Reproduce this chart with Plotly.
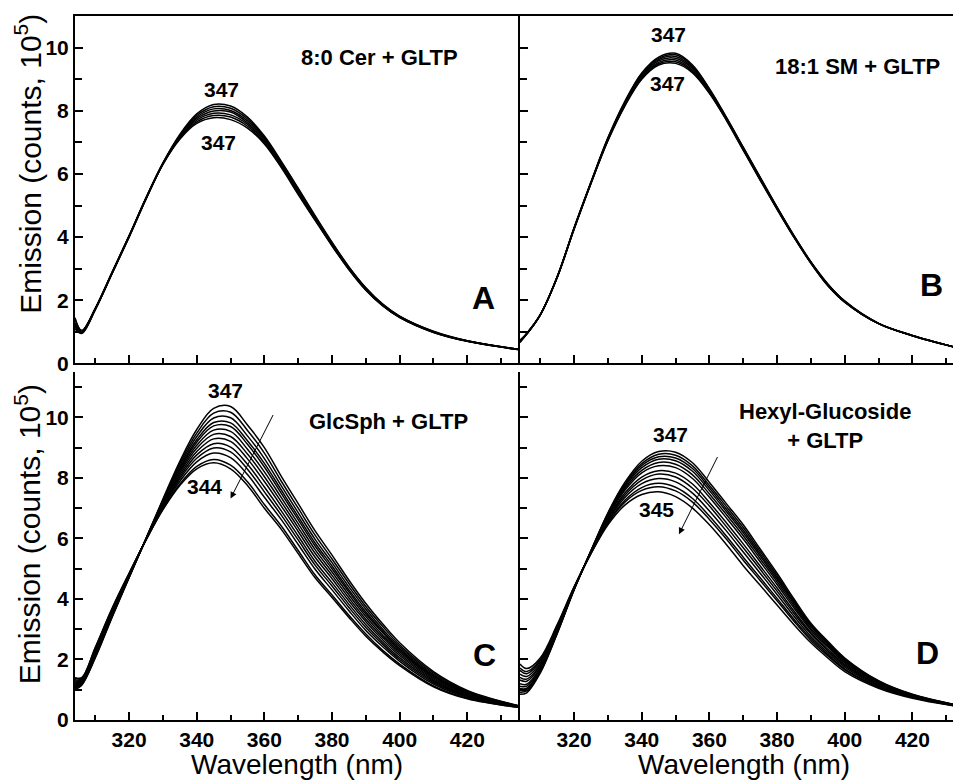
import plotly.graph_objects as go

# ---------------- data ----------------
WAVELENGTH = [304, 306, 310, 315, 320, 325, 330, 335, 340, 345, 350, 355,
              360, 365, 370, 375, 380, 385, 390, 395, 400, 410, 420, 435]

# Panel A: 8:0 Cer + GLTP  (emission, counts x 1e5)
CER_GLTP = [
    [1.40, 1.05, 1.75, 2.90, 4.05, 5.25, 6.35, 7.25, 7.90, 8.20, 8.15, 7.80, 7.20, 6.40, 5.55, 4.68, 3.84, 3.06, 2.40, 1.88, 1.50, 1.02, 0.72, 0.45],
    [1.25, 1.03, 1.74, 2.89, 4.04, 5.24, 6.34, 7.22, 7.85, 8.13, 8.08, 7.74, 7.16, 6.37, 5.52, 4.65, 3.82, 3.05, 2.39, 1.87, 1.49, 1.01, 0.72, 0.45],
    [1.45, 1.02, 1.73, 2.88, 4.03, 5.23, 6.33, 7.20, 7.80, 8.06, 8.01, 7.68, 7.12, 6.33, 5.48, 4.63, 3.80, 3.03, 2.37, 1.86, 1.48, 1.01, 0.71, 0.45],
    [1.15, 1.00, 1.73, 2.88, 4.03, 5.23, 6.33, 7.18, 7.75, 7.99, 7.96, 7.62, 7.08, 6.30, 5.45, 4.61, 3.78, 3.02, 2.36, 1.85, 1.48, 1.00, 0.71, 0.45],
    [1.30, 0.98, 1.72, 2.87, 4.02, 5.22, 6.32, 7.15, 7.70, 7.92, 7.87, 7.57, 7.03, 6.27, 5.42, 4.58, 3.76, 3.00, 2.35, 1.84, 1.47, 0.99, 0.71, 0.44],
    [1.20, 0.97, 1.71, 2.86, 4.01, 5.21, 6.31, 7.13, 7.65, 7.85, 7.80, 7.51, 6.99, 6.23, 5.38, 4.55, 3.74, 2.98, 2.33, 1.83, 1.46, 0.99, 0.70, 0.44],
    [1.10, 0.95, 1.70, 2.85, 4.00, 5.20, 6.30, 7.10, 7.60, 7.78, 7.72, 7.45, 6.95, 6.20, 5.35, 4.53, 3.72, 2.97, 2.32, 1.82, 1.45, 0.98, 0.70, 0.44],
]

# Panel B: 18:1 SM + GLTP
SM_GLTP = [
    [0.70, 0.95, 1.55, 2.75, 4.30, 5.75, 7.15, 8.30, 9.20, 9.70, 9.82, 9.45, 8.70, 7.80, 6.85, 5.90, 4.95, 4.05, 3.22, 2.52, 1.98, 1.27, 0.89, 0.45],
    [0.72, 0.95, 1.55, 2.74, 4.29, 5.74, 7.13, 8.27, 9.17, 9.66, 9.77, 9.41, 8.68, 7.78, 6.83, 5.88, 4.94, 4.04, 3.21, 2.51, 1.97, 1.27, 0.89, 0.45],
    [0.66, 0.94, 1.54, 2.74, 4.28, 5.73, 7.12, 8.25, 9.13, 9.62, 9.72, 9.37, 8.65, 7.77, 6.82, 5.87, 4.93, 4.03, 3.20, 2.50, 1.96, 1.27, 0.89, 0.45],
    [0.74, 0.94, 1.54, 2.73, 4.27, 5.72, 7.10, 8.22, 9.10, 9.58, 9.66, 9.33, 8.62, 7.75, 6.80, 5.85, 4.92, 4.02, 3.20, 2.49, 1.96, 1.26, 0.88, 0.45],
    [0.69, 0.94, 1.54, 2.73, 4.27, 5.72, 7.08, 8.20, 9.07, 9.53, 9.61, 9.28, 8.60, 7.73, 6.78, 5.83, 4.90, 4.01, 3.19, 2.48, 1.95, 1.26, 0.88, 0.45],
    [0.71, 0.93, 1.53, 2.72, 4.26, 5.71, 7.07, 8.17, 9.03, 9.49, 9.55, 9.24, 8.57, 7.72, 6.77, 5.82, 4.89, 4.00, 3.18, 2.47, 1.94, 1.26, 0.88, 0.45],
    [0.68, 0.93, 1.53, 2.72, 4.25, 5.70, 7.05, 8.15, 9.00, 9.45, 9.50, 9.20, 8.55, 7.70, 6.75, 5.80, 4.88, 3.99, 3.17, 2.46, 1.94, 1.26, 0.88, 0.45],
]

# Panel C: GlcSph + GLTP
GLCSPH_GLTP = [
    [1.00, 1.15, 2.05, 3.40, 4.70, 6.00, 7.30, 8.55, 9.60, 10.30, 10.36, 9.75, 9.00, 8.05, 7.15, 6.25, 5.45, 4.62, 3.85, 3.17, 2.55, 1.60, 0.98, 0.48],
    [1.04, 1.17, 2.08, 3.43, 4.71, 6.00, 7.27, 8.48, 9.48, 10.14, 10.17, 9.57, 8.82, 7.89, 7.00, 6.11, 5.32, 4.51, 3.75, 3.09, 2.48, 1.56, 0.95, 0.47],
    [1.07, 1.20, 2.11, 3.45, 4.73, 5.99, 7.24, 8.41, 9.37, 9.98, 9.99, 9.39, 8.64, 7.74, 6.85, 5.97, 5.20, 4.40, 3.66, 3.00, 2.42, 1.51, 0.93, 0.47],
    [1.10, 1.22, 2.14, 3.48, 4.74, 5.99, 7.21, 8.34, 9.26, 9.83, 9.82, 9.23, 8.48, 7.60, 6.72, 5.85, 5.09, 4.30, 3.57, 2.93, 2.36, 1.47, 0.91, 0.46],
    [1.13, 1.23, 2.16, 3.50, 4.75, 5.98, 7.19, 8.29, 9.18, 9.72, 9.70, 9.11, 8.36, 7.49, 6.62, 5.75, 5.00, 4.23, 3.50, 2.88, 2.31, 1.44, 0.89, 0.46],
    [1.16, 1.25, 2.19, 3.52, 4.76, 5.98, 7.16, 8.23, 9.08, 9.58, 9.54, 8.95, 8.20, 7.35, 6.49, 5.63, 4.89, 4.13, 3.42, 2.80, 2.25, 1.40, 0.87, 0.46],
    [1.19, 1.27, 2.22, 3.54, 4.77, 5.98, 7.13, 8.17, 8.98, 9.44, 9.37, 8.79, 8.04, 7.21, 6.36, 5.51, 4.78, 4.03, 3.33, 2.73, 2.19, 1.36, 0.85, 0.45],
    [1.22, 1.29, 2.25, 3.57, 4.78, 5.97, 7.10, 8.10, 8.87, 9.29, 9.21, 8.63, 7.88, 7.07, 6.23, 5.38, 4.67, 3.93, 3.25, 2.65, 2.13, 1.32, 0.82, 0.45],
    [1.26, 1.31, 2.28, 3.60, 4.80, 5.97, 7.07, 8.03, 8.76, 9.13, 9.02, 8.45, 7.70, 6.91, 6.08, 5.24, 4.54, 3.82, 3.15, 2.57, 2.06, 1.28, 0.80, 0.44],
    [1.29, 1.33, 2.31, 3.62, 4.81, 5.96, 7.04, 7.97, 8.65, 8.99, 8.86, 8.29, 7.54, 6.77, 5.95, 5.12, 4.43, 3.72, 3.06, 2.50, 2.00, 1.24, 0.78, 0.44],
    [1.33, 1.36, 2.34, 3.65, 4.82, 5.96, 7.01, 7.89, 8.53, 8.82, 8.67, 8.11, 7.36, 6.62, 5.80, 4.98, 4.30, 3.61, 2.96, 2.42, 1.94, 1.19, 0.75, 0.43],
    [1.38, 1.39, 2.38, 3.68, 4.84, 5.95, 6.97, 7.80, 8.38, 8.61, 8.42, 7.87, 7.12, 6.41, 5.60, 4.79, 4.13, 3.46, 2.84, 2.30, 1.85, 1.13, 0.72, 0.42],
    [1.40, 1.40, 2.40, 3.70, 4.85, 5.95, 6.95, 7.75, 8.30, 8.50, 8.30, 7.75, 7.00, 6.30, 5.50, 4.70, 4.05, 3.39, 2.77, 2.25, 1.80, 1.10, 0.70, 0.42],
]

# Panel D: Hexyl-Glucoside + GLTP
HEXYL_GLTP = [
    [0.85, 0.90, 1.55, 2.85, 4.30, 5.60, 6.85, 7.85, 8.55, 8.87, 8.85, 8.50, 7.85, 7.15, 6.45, 5.65, 4.85, 4.00, 3.20, 2.60, 2.05, 1.30, 0.85, 0.45],
    [0.92, 0.96, 1.59, 2.87, 4.31, 5.59, 6.82, 7.80, 8.47, 8.78, 8.75, 8.40, 7.75, 7.06, 6.36, 5.57, 4.78, 3.94, 3.15, 2.56, 2.02, 1.28, 0.84, 0.45],
    [0.98, 1.00, 1.62, 2.89, 4.31, 5.59, 6.80, 7.75, 8.41, 8.70, 8.66, 8.31, 7.67, 6.97, 6.27, 5.49, 4.71, 3.89, 3.12, 2.53, 1.99, 1.27, 0.83, 0.45],
    [1.04, 1.05, 1.65, 2.91, 4.32, 5.58, 6.77, 7.71, 8.34, 8.62, 8.57, 8.22, 7.58, 6.89, 6.19, 5.42, 4.65, 3.84, 3.08, 2.50, 1.96, 1.25, 0.83, 0.44],
    [1.12, 1.12, 1.69, 2.93, 4.33, 5.57, 6.74, 7.65, 8.25, 8.51, 8.45, 8.10, 7.47, 6.79, 6.09, 5.33, 4.57, 3.77, 3.02, 2.45, 1.93, 1.23, 0.81, 0.44],
    [1.20, 1.18, 1.73, 2.96, 4.34, 5.57, 6.71, 7.59, 8.17, 8.40, 8.34, 7.98, 7.36, 6.68, 5.98, 5.23, 4.48, 3.70, 2.97, 2.41, 1.89, 1.21, 0.80, 0.44],
    [1.32, 1.28, 1.79, 2.99, 4.35, 5.55, 6.66, 7.50, 8.03, 8.24, 8.16, 7.80, 7.19, 6.52, 5.82, 5.09, 4.36, 3.60, 2.89, 2.34, 1.84, 1.18, 0.79, 0.44],
    [1.41, 1.35, 1.83, 3.02, 4.36, 5.54, 6.63, 7.43, 7.93, 8.13, 8.03, 7.66, 7.07, 6.39, 5.69, 4.98, 4.26, 3.52, 2.84, 2.29, 1.80, 1.16, 0.78, 0.43],
    [1.52, 1.44, 1.89, 3.05, 4.37, 5.53, 6.58, 7.35, 7.81, 7.98, 7.87, 7.50, 6.91, 6.25, 5.55, 4.85, 4.15, 3.43, 2.76, 2.23, 1.75, 1.13, 0.76, 0.43],
    [1.64, 1.53, 1.95, 3.09, 4.38, 5.52, 6.53, 7.26, 7.68, 7.82, 7.69, 7.32, 6.74, 6.08, 5.38, 4.70, 4.02, 3.33, 2.69, 2.17, 1.69, 1.10, 0.75, 0.43],
    [1.72, 1.60, 1.99, 3.11, 4.39, 5.51, 6.50, 7.20, 7.59, 7.71, 7.57, 7.20, 6.63, 5.98, 5.28, 4.61, 3.94, 3.26, 2.63, 2.12, 1.66, 1.08, 0.74, 0.42],
    [1.85, 1.70, 2.05, 3.15, 4.40, 5.50, 6.45, 7.10, 7.45, 7.54, 7.38, 7.00, 6.45, 5.80, 5.10, 4.45, 3.80, 3.15, 2.55, 2.05, 1.60, 1.05, 0.72, 0.42],
]

PANEL_TITLES = ["8:0 Cer + GLTP", "18:1 SM + GLTP", "GlcSph + GLTP", "Hexyl-Glucoside<br>+ GLTP"]
PANEL_LETTERS = ["A", "B", "C", "D"]
PEAK_LABELS = [("347", "347"), ("347", "347"), ("347", "344"), ("347", "345")]
X_TICKS = [320, 340, 360, 380, 400, 420]
Y_TICKS = [0, 2, 4, 6, 8, 10]

# ---------------- figure ----------------
FONT = "Liberation Sans, Arial, Helvetica, sans-serif"
fig = go.Figure()

panels = [CER_GLTP, SM_GLTP, GLCSPH_GLTP, HEXYL_GLTP]
for i, spectra in enumerate(panels):
    ax = "" if i == 0 else str(i + 1)
    for s in spectra:
        fig.add_trace(go.Scatter(
            x=WAVELENGTH, y=s, mode="lines", xaxis="x" + ax, yaxis="y" + ax,
            line=dict(color="black", width=1.5, shape="spline", smoothing=1.0),
            showlegend=False, hoverinfo="skip"))

def xaxis(domain, rng, labels, mirror, anchor):
    return dict(domain=domain, range=rng, anchor=anchor, showline=True, linecolor="black",
                linewidth=2, mirror=mirror, ticks="inside", ticklen=8, tickwidth=2,
                tickcolor="black", tickvals=X_TICKS, showticklabels=labels,
                tickfont=dict(family=FONT, size=21, color="black", weight="bold"),
                minor=dict(ticks="inside", ticklen=5, tickwidth=1.5, tickcolor="black",
                           tick0=300, dtick=10),
                showgrid=False, zeroline=False)

def yaxis(domain, rng, labels, mirror, anchor):
    return dict(domain=domain, range=rng, anchor=anchor, showline=True, linecolor="black",
                linewidth=2, mirror=mirror, ticks="inside", ticklen=8, tickwidth=2,
                tickcolor="black", tickvals=Y_TICKS, showticklabels=labels,
                tickfont=dict(family=FONT, size=21, color="black", weight="bold"),
                minor=dict(ticks="inside", ticklen=7, tickwidth=1.5, tickcolor="black",
                           tick0=0, dtick=1),
                showgrid=False, zeroline=False)

LEFT = [0, 0.5046]
RIGHT = [0.5068, 1]
TOP = [0.5064, 1]
BOT = [0, 0.4943]

fig.update_layout(
    width=953, height=783,
    margin=dict(l=75, r=0, t=16, b=63),
    paper_bgcolor="white", plot_bgcolor="white",
    font=dict(family=FONT, color="black"),
    xaxis=xaxis(LEFT, [304, 435], False, True, "y"),
    yaxis=yaxis(TOP, [0, 11], True, True, "x"),
    xaxis2=xaxis(RIGHT, [304, 432], False, True, "y2"),
    yaxis2=yaxis(TOP, [0, 11], False, False, "x2"),
    xaxis3=xaxis(LEFT, [304, 435], True, False, "y3"),
    yaxis3=yaxis(BOT, [0, 11.5], True, True, "x3"),
    xaxis4=xaxis(RIGHT, [304, 432], True, False, "y4"),
    yaxis4=yaxis(BOT, [0, 11.5], False, False, "x4"),
)

ann = []
bold = lambda s: dict(family=FONT, size=s, color="black", weight="bold")
# panel titles, letters, peak labels (data coordinates of each panel)
title_pos = [(394.1, 9.68), (403.8, 9.40), (396.8, 9.88), (394.2, 9.72)]
letter_pos = [(424.9, 2.06), (425.5, 2.50), (425.2, 2.15), (424.6, 2.20)]
peak_top_pos = [(347.4, 8.68), (348.0, 10.43), (348.5, 10.90), (348.6, 9.42)]
peak_bot_pos = [(346.3, 6.99), (347.5, 8.86), (342.4, 7.72), (344.4, 6.96)]
for i in range(4):
    ax = "" if i == 0 else str(i + 1)
    xr, yr = "x" + ax, "y" + ax
    ann.append(dict(x=title_pos[i][0], y=title_pos[i][1], xref=xr, yref=yr, text=PANEL_TITLES[i],
                    showarrow=False, font=bold(22), align="center"))
    ann.append(dict(x=letter_pos[i][0], y=letter_pos[i][1], xref=xr, yref=yr, text=PANEL_LETTERS[i],
                    showarrow=False, font=bold(32)))
    ann.append(dict(x=peak_top_pos[i][0], y=peak_top_pos[i][1], xref=xr, yref=yr, text=PEAK_LABELS[i][0],
                    showarrow=False, font=bold(21)))
    ann.append(dict(x=peak_bot_pos[i][0], y=peak_bot_pos[i][1], xref=xr, yref=yr, text=PEAK_LABELS[i][1],
                    showarrow=False, font=bold(21)))

# arrows in C and D
ann.append(dict(x=350.0, y=7.32, ax=362.8, ay=10.13, xref="x3", yref="y3", axref="x3", ayref="y3",
                text="", showarrow=True, arrowhead=2, arrowsize=1.3, arrowwidth=1, arrowcolor="black"))
ann.append(dict(x=351.0, y=6.14, ax=362.6, ay=8.74, xref="x4", yref="y4", axref="x4", ayref="y4",
                text="", showarrow=True, arrowhead=2, arrowsize=1.3, arrowwidth=1, arrowcolor="black"))

# axis titles
ytitle = "Emission (counts, 10<sup>5</sup>)"
for yc in (0.790, 0.264):
    ann.append(dict(x=-0.0535, y=yc, xref="paper", yref="paper", text=ytitle, textangle=-90,
                    showarrow=False, font=dict(family=FONT, size=30, color="black"),
                    xanchor="center", yanchor="middle"))
for xc in (0.2525, 0.7614):
    ann.append(dict(x=xc, y=-0.0625, xref="paper", yref="paper", text="Wavelength (nm)",
                    showarrow=False, font=dict(family=FONT, size=28, color="black"),
                    xanchor="center", yanchor="middle"))

fig.update_layout(annotations=ann)
fig.write_html("out.html", config={"displayModeBar": False},
               post_script="document.body.style.margin='0px';document.body.style.overflow='hidden';")
